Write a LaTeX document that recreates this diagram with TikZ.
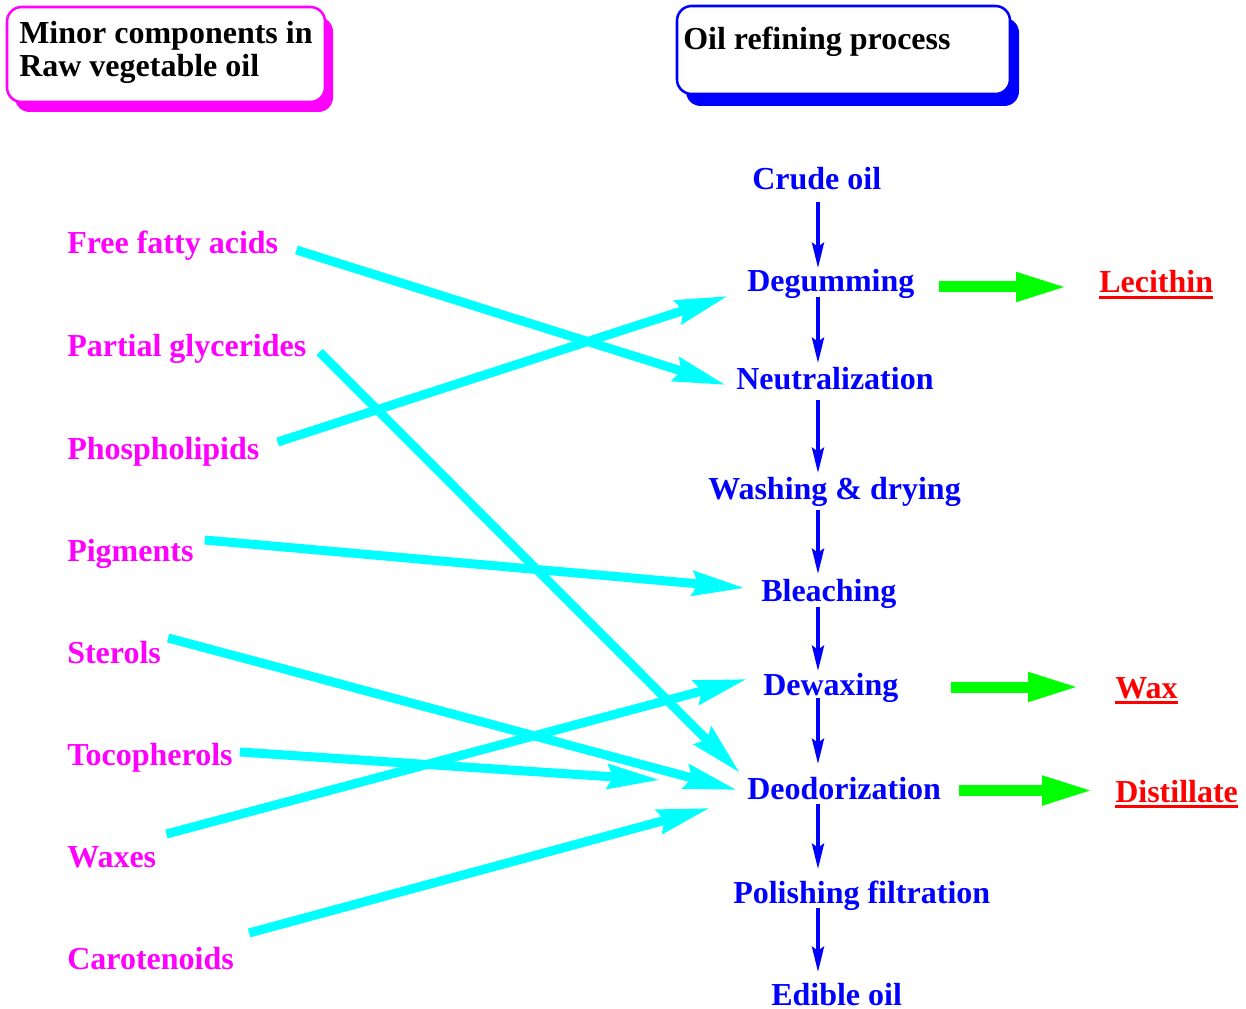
\documentclass[tikz,border=0pt]{standalone}
\usepackage{fontspec}
\setmainfont{Liberation Serif}
\usetikzlibrary{arrows.meta,calc}
\definecolor{mag}{RGB}{255,0,255}
\definecolor{cyn}{RGB}{0,255,255}
\definecolor{blu}{RGB}{0,0,255}
\definecolor{grn}{RGB}{0,255,0}
\definecolor{rd}{RGB}{255,0,0}
\newcommand\redunder[1]{\setbox0\hbox{#1}\rlap{\rule[-4.5pt]{\wd0}{2.2pt}}\box0}
\begin{document}
\begin{tikzpicture}[x=0.75pt,y=-0.75pt,
 txt/.style={font=\bfseries\fontsize{24}{24.75}\selectfont, inner sep=0pt},
 comp/.style={txt, text=mag, anchor=base west},
 proc/.style={txt, text=blu, anchor=base west},
 prod/.style={txt, text=rd, anchor=base west},
 hdr/.style={txt, text=black, align=left},
 feed/.style={draw=cyn, line width=6.75pt, -{Stealth[length=39pt,width=18pt,inset=4pt]}},
 flow/.style={draw=blu, line width=2.8pt, -{Stealth[length=19pt,width=9pt,inset=3pt]}},
 yieldarrow/.style={draw=grn, line width=8.25pt, -{Triangle[length=39pt,width=20pt]}},
 boxst/.style={rounded corners=11pt, line width=1.9pt}
]
\useasboundingbox (0,0) rectangle (1246,1009);

% header boxes
\fill[mag, rounded corners=11pt] (15,17) rectangle (333,112);
\draw[boxst, draw=mag, fill=white] (7,7) rectangle (325,102);
\node[hdr, anchor=north west] (minor) at (19,21) {Minor components in\\Raw vegetable oil};

\fill[blu, rounded corners=11pt] (686,18) rectangle (1019,106);
\draw[boxst, draw=blu, fill=white] (677,6) rectangle (1010,94);
\node[hdr, anchor=base west] (refin) at (683,50) {Oil refining process};

% minor components
\node[comp] (ffa)  at (67,254) {Free fatty acids};
\node[comp] (pg)   at (67,356) {Partial glycerides};
\node[comp] (pl)   at (67,459) {Phospholipids};
\node[comp] (pig)  at (67,561) {Pigments};
\node[comp] (ster) at (67,663) {Sterols};
\node[comp] (toc)  at (67,765) {Tocopherols};
\node[comp] (wax)  at (67,867) {Waxes};
\node[comp] (car)  at (67,969) {Carotenoids};

% process steps
\node[proc] (crude)  at (752,190) {Crude oil};
\node[proc] (degum)  at (747,292) {Degumming};
\node[proc] (neut)   at (736,389) {Neutralization};
\node[proc] (wash)   at (708,499) {Washing \& drying};
\node[proc] (bleach) at (761,601) {Bleaching};
\node[proc] (dewax)  at (763,695) {Dewaxing};
\node[proc] (deodor) at (747,799) {Deodorization};
\node[proc] (polish) at (733,903) {Polishing filtration};
\node[proc, text depth=0pt] (edible) at (771,1005) {Edible oil};

% by-products
\node[prod] (lec)  at (1099,293) {\redunder{Lecithin}};
\node[prod] (waxp) at (1115,698) {\redunder{Wax}};
\node[prod] (dist) at (1115,802) {\redunder{Distillate}};

% process flow
\coordinate (ax) at (818,0);
\draw[flow] ($(crude.base -| ax)+(0,12)$)  -- ($(degum.base -| ax)+(0,-24)$);
\draw[flow] ($(degum.base -| ax)+(0,5)$)   -- ($(neut.base -| ax)+(0,-26)$);
\draw[flow] ($(neut.base -| ax)+(0,11)$)   -- ($(wash.base -| ax)+(0,-26)$);
\draw[flow] ($(wash.base -| ax)+(0,11)$)   -- ($(bleach.base -| ax)+(0,-27)$);
\draw[flow] ($(bleach.base -| ax)+(0,6)$)  -- ($(dewax.base -| ax)+(0,-24)$);
\draw[flow] ($(dewax.base -| ax)+(0,3)$)   -- ($(deodor.base -| ax)+(0,-35)$);
\draw[flow] ($(deodor.base -| ax)+(0,5)$)  -- ($(polish.base -| ax)+(0,-34)$);
\draw[flow] ($(polish.base -| ax)+(0,5)$)  -- ($(edible.base -| ax)+(0,-33)$);

% by-product arrows
\draw[yieldarrow] ([shift={(24,-5)}]degum.base east) -- ([shift={(-31,-6)}]lec.base west);
\draw[yieldarrow] ([shift={(52,-8)}]dewax.base east) -- ([shift={(-35,-11)}]waxp.base west);
\draw[yieldarrow] ([shift={(18,-8.5)}]deodor.base east) -- ([shift={(-21,-11.5)}]dist.base west);

% components to steps
\draw[feed] ([shift={(18,-4)}]ffa.base east)   -- ([shift={(-10,-4)}]neut.base west);
\draw[feed] ([shift={(13,-4)}]pg.base east)    -- ([shift={(-7,-26)}]deodor.base west);
\draw[feed] ([shift={(18,-17)}]pl.base east)   -- ([shift={(-19,4)}]degum.base west);
\draw[feed] ([shift={(11,-21)}]pig.base east)  -- ([shift={(-16,-13)}]bleach.base west);
\draw[feed] ([shift={(7,-25)}]ster.base east)  -- ([shift={(-10,-9)}]deodor.base west);
\draw[feed] ([shift={(7,-13)}]toc.base east)   -- ([shift={(-87,-19)}]deodor.base west);
\draw[feed] ([shift={(10,-33)}]wax.base east)  -- ([shift={(-16,-16)}]dewax.base west);
\draw[feed] ([shift={(15,-36)}]car.base east)  -- ([shift={(-37,9)}]deodor.base west);
\end{tikzpicture}
\end{document}
